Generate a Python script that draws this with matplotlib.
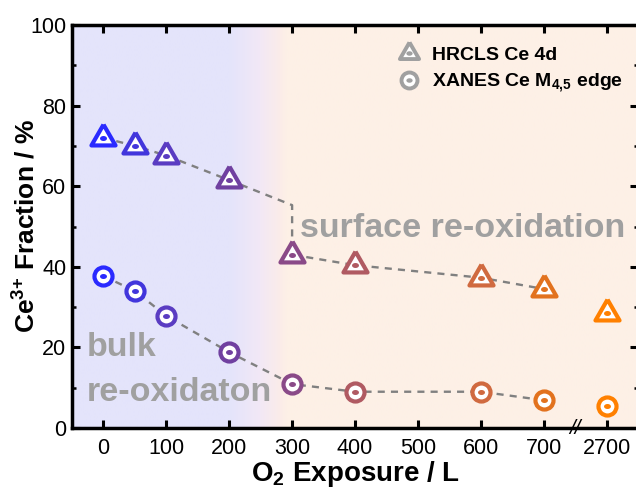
import numpy as np
import matplotlib
matplotlib.use("Agg")
import matplotlib.pyplot as plt
from matplotlib.colors import LinearSegmentedColormap
from matplotlib.lines import Line2D
from matplotlib.legend_handler import HandlerTuple

plt.rcParams['font.family'] = ['Liberation Sans', 'DejaVu Sans']
plt.rcParams['mathtext.fontset'] = 'custom'
plt.rcParams['mathtext.rm'] = 'Liberation Sans'
plt.rcParams['mathtext.bf'] = 'Liberation Sans:bold'

# O2 exposure (L); the 2700 L point sits after an axis break
exposure_labels = ["0", "100", "200", "300", "400", "500", "600", "700", "2700"]
exposure_ticks = [0, 100, 200, 300, 400, 500, 600, 700, 800]
exposure = [0, 50, 100, 200, 300, 400, 600, 700, 800]

# Ce3+ fraction (%)
hrcls = [72.0, 70.0, 67.6, 61.5, 43.0, 40.4, 37.3, 34.5, 28.6]
xanes = [37.7, 34.0, 27.8, 18.8, 10.9, 9.0, 9.0, 6.9, 5.5]

point_colors = ["#2a2aff", "#4236dc", "#5a3cc2", "#7040a0", "#8a4a88",
                "#b05a62", "#d06a40", "#e2721e", "#ff8000"]

# guide through the HRCLS points, with a step at 300 L
hrcls_step_top = 55.3

fig = plt.figure(figsize=(6.36, 4.88), dpi=100)
ax = fig.add_axes([72 / 636, 60 / 488, 566 / 636, 403 / 488])

xmin, xmax = -50, 850
ax.set_xlim(xmin, xmax)
ax.set_ylim(0, 100)

# shaded background: bulk (lavender) fading into surface (peach)
bg = LinearSegmentedColormap.from_list(
    "bg", [(0.0, "#e4e4fb"), (0.2778, "#e4e4fb"), (0.33, "#f2e8f6"),
           (0.3667, "#fbece9"), (0.3778, "#fdf0e6"), (1.0, "#fdf0e6")])
ax.imshow(np.linspace(0, 1, 512)[None, :], cmap=bg, aspect="auto",
          extent=[xmin, xmax, 0, 100], zorder=0, interpolation="bilinear")

guide_kw = dict(color="#808080", lw=1.7, ls=(0, (3, 2.6)), zorder=2)
gx = exposure[:5] + exposure[4:8]
gy = hrcls[:4] + [hrcls_step_top] + hrcls[4:8]
ax.plot(gx, gy, **guide_kw)
ax.plot(exposure[:8], xanes[:8], **guide_kw)

tri = [(0.0, 1.0), (-0.866, -0.5), (0.866, -0.5), (0.0, 1.0)]
t = np.linspace(0, 2 * np.pi, 40)
dot = list(zip(np.cos(t), 0.72 * np.sin(t)))

for x, h, s, c in zip(exposure, hrcls, xanes, point_colors):
    ax.plot(x, h, marker=tri, ms=20, mfc="white", mec=c, mew=3.0, zorder=3)
    ax.plot(x, h, marker=dot, ms=5, mfc=c, mec=c, mew=0, zorder=4)
    ax.plot(x, s, marker="o", ms=13, mfc="white", mec=c, mew=3.0, zorder=3)
    ax.plot(x, s, marker=dot, ms=5, mfc=c, mec=c, mew=0, zorder=4)

ax.text(312, 49.6, "surface re-oxidation", color="#a0a0a0", fontsize=24.5,
        fontweight="bold", ha="left", va="center", zorder=5)
ax.text(-27, 20, "bulk", color="#a0a0a0", fontsize=24.5,
        fontweight="bold", ha="left", va="center", zorder=5)
ax.text(-27, 8.7, "re-oxidaton", color="#a0a0a0", fontsize=24.5,
        fontweight="bold", ha="left", va="center", zorder=5)

# axis break marker
ax.text(750, 0, "//", fontsize=15, ha="center", va="center",
        style="italic", zorder=6, clip_on=False)

ax.set_xticks(exposure_ticks)
ax.set_xticklabels(exposure_labels)
ax.set_yticks(np.arange(0, 101, 20))
ax.set_yticks(np.arange(10, 100, 20), minor=True)
ax.tick_params(which="both", direction="in", top=True, right=True,
               labelsize=15.5, pad=7)
ax.tick_params(axis="y", which="major", pad=4)
ax.tick_params(which="major", length=6, width=2.2)
ax.tick_params(which="minor", length=3, width=1.8)
for sp in ax.spines.values():
    sp.set_linewidth(2.5)

ax.set_xlabel(r"O$_\mathbf{2}$ Exposure / L", fontsize=20, fontweight="bold",
              labelpad=0.5)
ax.set_ylabel(r"Ce$^{\mathbf{3{+}}}$ Fraction / %", fontsize=19,
              fontweight="bold")
ax.yaxis.set_label_coords(-0.058, 0.5)

grey = "#a0a0a0"
h_tri = (Line2D([], [], ls="none", marker=tri, ms=16, mfc="white", mec=grey, mew=2.8),
         Line2D([], [], ls="none", marker=dot, ms=4.5, mfc=grey, mec=grey, mew=0))
h_cir = (Line2D([], [], ls="none", marker="o", ms=11.5, mfc="white", mec=grey, mew=2.8),
         Line2D([], [], ls="none", marker=dot, ms=4.5, mfc=grey, mec=grey, mew=0))
leg = ax.legend([h_tri, h_cir], ["HRCLS Ce 4d", r"XANES Ce M$_\mathbf{4{,}5}$ edge"],
                handler_map={tuple: HandlerTuple(ndivide=1)},
                loc="upper left", bbox_to_anchor=(0.555, 0.972), frameon=False,
                prop={"weight": "bold", "size": 14}, handlelength=1.4,
                handletextpad=0.45, labelspacing=0.42, borderpad=0)

fig.savefig("out.png", dpi=100)
